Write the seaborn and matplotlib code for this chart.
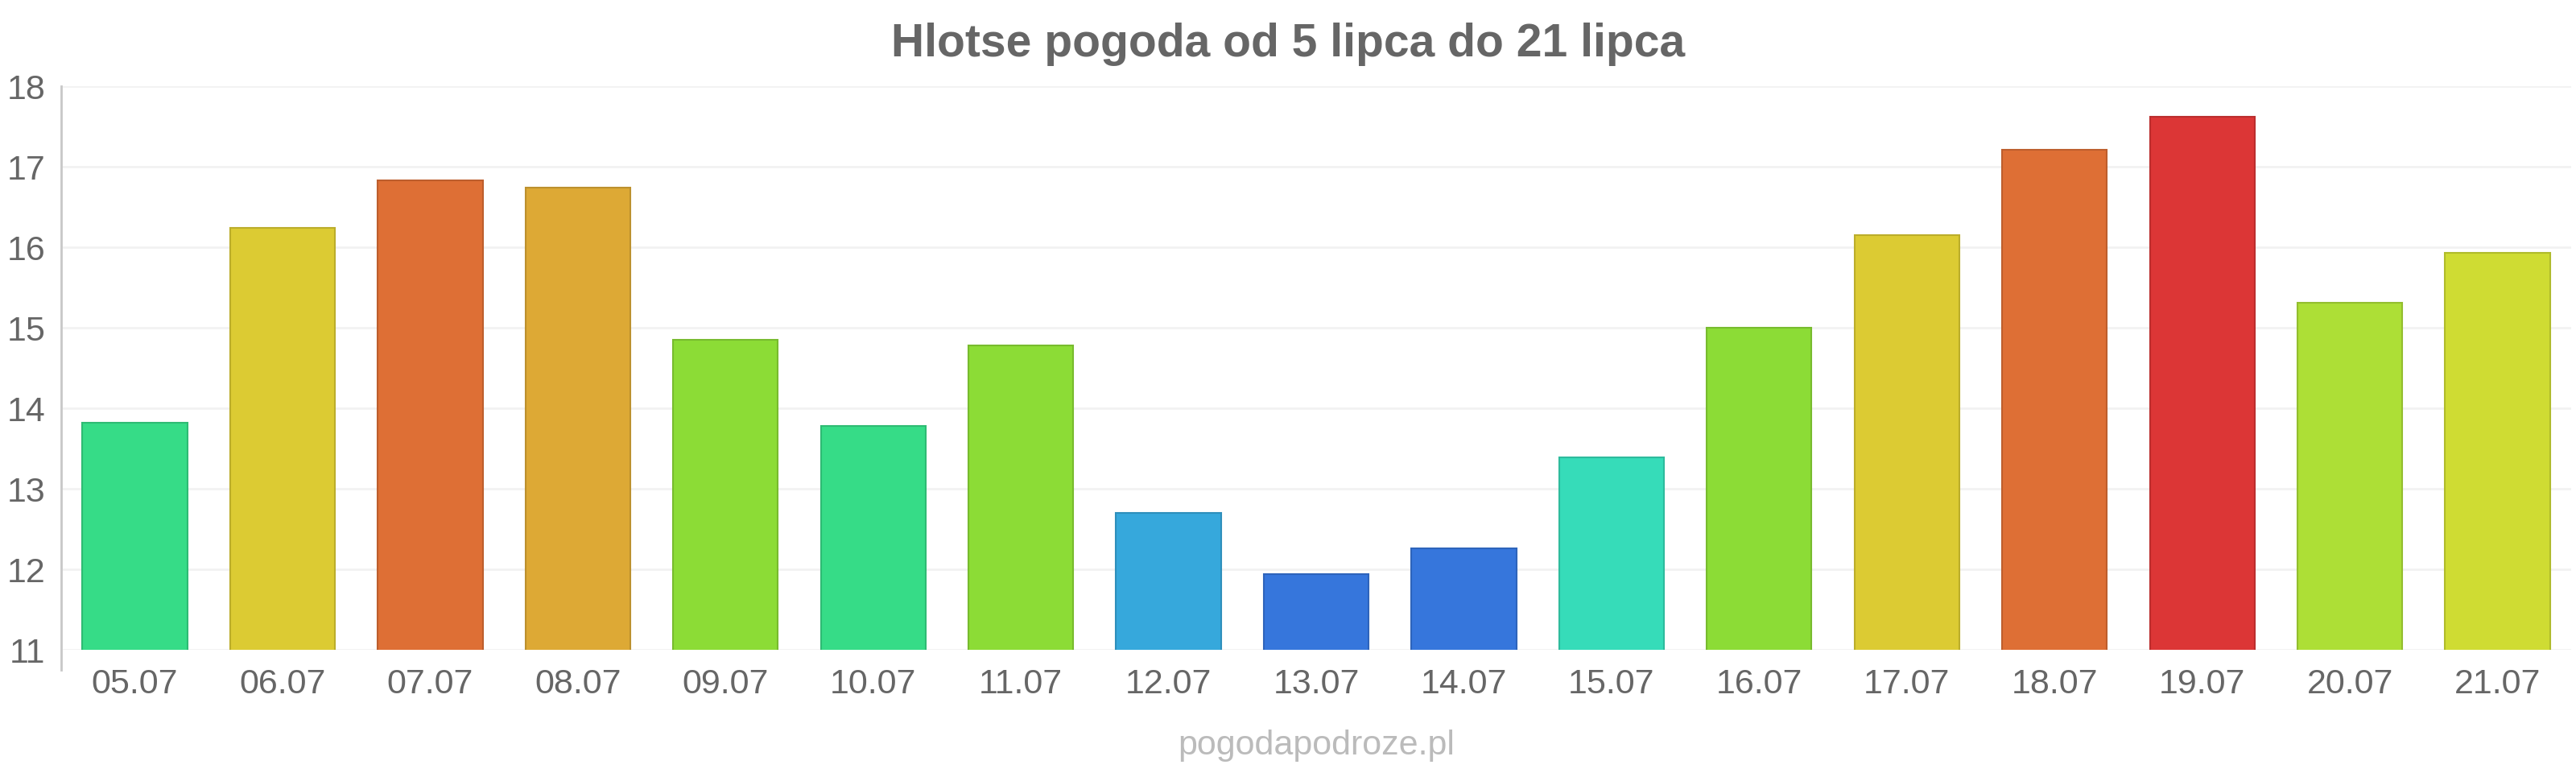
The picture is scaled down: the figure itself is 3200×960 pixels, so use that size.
import matplotlib
matplotlib.use("Agg")
import matplotlib.pyplot as plt
import seaborn as sns
import pandas as pd

# dane z wykresu
dni = ['05.07', '06.07', '07.07', '08.07', '09.07', '10.07', '11.07', '12.07', '13.07',
       '14.07', '15.07', '16.07', '17.07', '18.07', '19.07', '20.07', '21.07']
temp = [13.82, 16.24, 16.83, 16.74, 14.85, 13.78, 14.78, 12.70, 11.94,
        12.26, 13.39, 15.00, 16.15, 17.21, 17.62, 15.31, 15.93]
kolory = ['#36dc87', '#dccb33', '#de6f35', '#dda935', '#8cdc36', '#36dc87', '#8cdc36', '#36a8dc', '#3676dc',
          '#3676dc', '#36dcb9', '#8cdc36', '#dccb33', '#de6f35', '#dc3636', '#addf36', '#cfdc33']
y_ticks = [11, 12, 13, 14, 15, 16, 17, 18]

df = pd.DataFrame({'dzien': dni, 'temp': temp})

sns.set_style('white')
plt.rcParams['font.family'] = ['Liberation Sans', 'DejaVu Sans']

fig = plt.figure(figsize=(32, 9.6), dpi=100)
ax = fig.add_axes([0.0237, 0.159, 0.9745, 0.7295])

sns.barplot(data=df, x='dzien', y='temp', hue='dzien', palette=kolory, legend=False,
            width=0.71, ax=ax, saturation=1)
# ciemniejsza obwódka słupków
for p in ax.patches:
    fc = p.get_facecolor()
    p.set_edgecolor(tuple(c * 0.85 for c in fc[:3]) + (1,))
    p.set_linewidth(1.5)

ax.set_ylim(11, 18)
ax.set_xlim(-0.5, len(dni) - 0.5)
ax.set_yticks(y_ticks)
ax.yaxis.grid(True, color='#f2f2f2', linewidth=2)
ax.set_axisbelow(True)
ax.tick_params(axis='y', length=10, color='#f2f2f2', width=2, labelsize=31, labelcolor='#666666', pad=4)
ax.tick_params(axis='x', length=0, labelsize=31, labelcolor='#666666', pad=16)
ax.set_xlabel('')
ax.set_ylabel('')
for s in ['top', 'right', 'bottom']:
    ax.spines[s].set_visible(False)
ax.spines['left'].set_color('#c8c8c8')
ax.spines['left'].set_linewidth(2)
ax.spines['left'].set_bounds(10.75, 18)

fig.text(0.5, 0.943, 'Hlotse pogoda od 5 lipca do 21 lipca', ha='center', va='center',
         fontsize=41, fontweight='bold', color='#666666')
fig.text(0.511, 0.035, 'pogodapodroze.pl', ha='center', va='center',
         fontsize=31, color='#bbbbbb')

fig.savefig('out.png', dpi=100)
